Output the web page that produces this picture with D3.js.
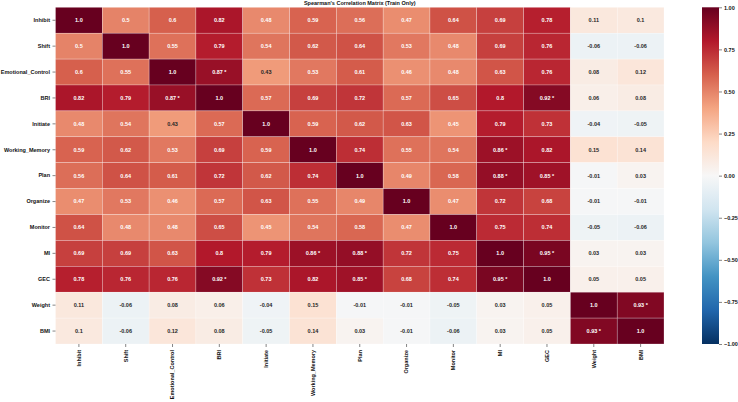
<!DOCTYPE html>
<html>
<head>
<meta charset="utf-8">
<script src="https://cdn.jsdelivr.net/npm/d3@7"></script>
<style>
  body { margin: 0; background: #fff; }
  svg { display: block; font-family: "Liberation Sans", Arial, sans-serif; }
</style>
</head>
<body>
<svg width="738" height="402"></svg>
<script>
const vars = ["Inhibit", "Shift", "Emotional_Control", "BRI", "Initiate", "Working_Memory",
  "Plan", "Organize", "Monitor", "MI", "GEC", "Weight", "BMI"];

const rInhibit   = [1.0, 0.5, 0.6, 0.82, 0.48, 0.59, 0.56, 0.47, 0.64, 0.69, 0.78, 0.11, 0.1];
const rShift     = [0.5, 1.0, 0.55, 0.79, 0.54, 0.62, 0.64, 0.53, 0.48, 0.69, 0.76, -0.06, -0.06];
const rEmotional = [0.6, 0.55, 1.0, 0.87, 0.43, 0.53, 0.61, 0.46, 0.48, 0.63, 0.76, 0.08, 0.12];
const rBRI       = [0.82, 0.79, 0.87, 1.0, 0.57, 0.69, 0.72, 0.57, 0.65, 0.8, 0.92, 0.06, 0.08];
const rInitiate  = [0.48, 0.54, 0.43, 0.57, 1.0, 0.59, 0.62, 0.63, 0.45, 0.79, 0.73, -0.04, -0.05];
const rWorkMem   = [0.59, 0.62, 0.53, 0.69, 0.59, 1.0, 0.74, 0.55, 0.54, 0.86, 0.82, 0.15, 0.14];
const rPlan      = [0.56, 0.64, 0.61, 0.72, 0.62, 0.74, 1.0, 0.49, 0.58, 0.88, 0.85, -0.01, 0.03];
const rOrganize  = [0.47, 0.53, 0.46, 0.57, 0.63, 0.55, 0.49, 1.0, 0.47, 0.72, 0.68, -0.01, -0.01];
const rMonitor   = [0.64, 0.48, 0.48, 0.65, 0.45, 0.54, 0.58, 0.47, 1.0, 0.75, 0.74, -0.05, -0.06];
const rMI        = [0.69, 0.69, 0.63, 0.8, 0.79, 0.86, 0.88, 0.72, 0.75, 1.0, 0.95, 0.03, 0.03];
const rGEC       = [0.78, 0.76, 0.76, 0.92, 0.73, 0.82, 0.85, 0.68, 0.74, 0.95, 1.0, 0.05, 0.05];
const rWeight    = [0.11, -0.06, 0.08, 0.06, -0.04, 0.15, -0.01, -0.01, -0.05, 0.03, 0.05, 1.0, 0.93];
const rBMI       = [0.1, -0.06, 0.12, 0.08, -0.05, 0.14, 0.03, -0.01, -0.06, 0.03, 0.05, 0.93, 1.0];

const matrix = [rInhibit, rShift, rEmotional, rBRI, rInitiate, rWorkMem, rPlan,
  rOrganize, rMonitor, rMI, rGEC, rWeight, rBMI];

const cbTicks = [1, 0.75, 0.5, 0.25, 0, -0.25, -0.5, -0.75, -1];
const starCut = 0.85;

// RdBu_r, linear through the 11 brewer stops like matplotlib
const rdbu = ["#053061", "#2166ac", "#4393c3", "#92c5de", "#d1e5f0", "#f7f7f7",
  "#fddbc7", "#f4a582", "#d6604d", "#b2182b", "#67001f"];
const color = d3.scaleLinear()
  .domain(d3.range(11).map(i => -1 + i * 0.2))
  .range(rdbu)
  .interpolate(d3.interpolateRgb)
  .clamp(true);

const svg = d3.select("svg");
const mLeft = 55.5, mRight = 664, mTop = 7.3, mBottom = 344;
const labelSize = 5.5;

const x = d3.scaleBand().domain(vars).range([mLeft, mRight]);
const y = d3.scaleBand().domain(vars).range([mTop, mBottom]);

const cells = [];
matrix.forEach((row, i) => row.forEach((v, j) => cells.push({ r: vars[i], c: vars[j], v, diag: i === j })));

const lum = c => {
  const rgb = d3.rgb(c);
  const f = u => { u /= 255; return u <= 0.03928 ? u / 12.92 : Math.pow((u + 0.055) / 1.055, 2.4); };
  return 0.2126 * f(rgb.r) + 0.7152 * f(rgb.g) + 0.0722 * f(rgb.b);
};

const cell = svg.append("g").selectAll("g")
  .data(cells)
  .enter().append("g");

cell.append("rect")
  .attr("x", d => x(d.c))
  .attr("y", d => y(d.r))
  .attr("width", x.bandwidth())
  .attr("height", y.bandwidth())
  .attr("fill", d => color(d.v))
  .attr("stroke", "#fff")
  .attr("stroke-opacity", 0.5)
  .attr("stroke-width", 0.5);

cell.append("text")
  .attr("x", d => x(d.c) + x.bandwidth() / 2)
  .attr("y", d => y(d.r) + y.bandwidth() / 2)
  .attr("dy", "0.35em")
  .attr("text-anchor", "middle")
  .attr("font-size", 5.5)
  .attr("font-weight", "bold")
  .attr("fill", d => lum(color(d.v)) > 0.408 ? "#262626" : "#fff")
  .text(d => {
    let s = Number.isInteger(d.v) ? d.v.toFixed(1) : String(d.v);
    if (!d.diag && Math.abs(d.v) >= starCut) s += " *";
    return s;
  });

// axes
const yAxis = svg.append("g")
  .attr("transform", `translate(${mLeft},0)`)
  .call(d3.axisLeft(y).tickSize(3).tickPadding(2.5));
const xAxis = svg.append("g")
  .attr("transform", `translate(0,${mBottom})`)
  .call(d3.axisBottom(x).tickSize(3).tickPadding(2.5));

[xAxis, yAxis].forEach(a => {
  a.select(".domain").remove();
  a.selectAll(".tick line").attr("stroke", "#333").attr("stroke-width", 0.6);
  a.selectAll(".tick text")
    .attr("font-family", "Liberation Sans, Arial, sans-serif")
    .attr("font-size", labelSize)
    .attr("font-weight", "bold")
    .attr("fill", "#111");
});
xAxis.selectAll(".tick text")
  .attr("transform", "rotate(-90)")
  .attr("text-anchor", "end")
  .attr("x", -6)
  .attr("y", 0)
  .attr("dy", "0.35em");

svg.append("text")
  .attr("x", (mLeft + mRight) / 2)
  .attr("y", 5)
  .attr("text-anchor", "middle")
  .attr("font-size", labelSize)
  .attr("font-weight", "bold")
  .attr("fill", "#111")
  .text("Spearman's Correlation Matrix (Train Only)");

// colorbar
const cbX = 702, cbW = 17;
const cbScale = d3.scaleLinear().domain([-1, 1]).range([mBottom, mTop]);
const defs = svg.append("defs");
const grad = defs.append("linearGradient")
  .attr("id", "cb").attr("x1", 0).attr("y1", 1).attr("x2", 0).attr("y2", 0);
d3.range(0, 1.0001, 0.05).forEach(t => {
  grad.append("stop").attr("offset", t).attr("stop-color", color(-1 + 2 * t));
});
svg.append("rect")
  .attr("x", cbX).attr("y", mTop)
  .attr("width", cbW).attr("height", mBottom - mTop)
  .attr("fill", "url(#cb)");

const cbAxis = svg.append("g")
  .attr("transform", `translate(${cbX + cbW},0)`)
  .call(d3.axisRight(cbScale).tickValues(cbTicks).tickSize(3).tickPadding(2)
    .tickFormat(d => d3.format(".2f")(d).replace("-", "\u2212")));
cbAxis.select(".domain").remove();
cbAxis.selectAll(".tick line").attr("stroke", "#333").attr("stroke-width", 0.6);
cbAxis.selectAll(".tick text")
  .attr("font-family", "Liberation Sans, Arial, sans-serif")
  .attr("font-size", labelSize)
  .attr("font-weight", "bold")
  .attr("fill", "#111");
</script>
</body>
</html>
